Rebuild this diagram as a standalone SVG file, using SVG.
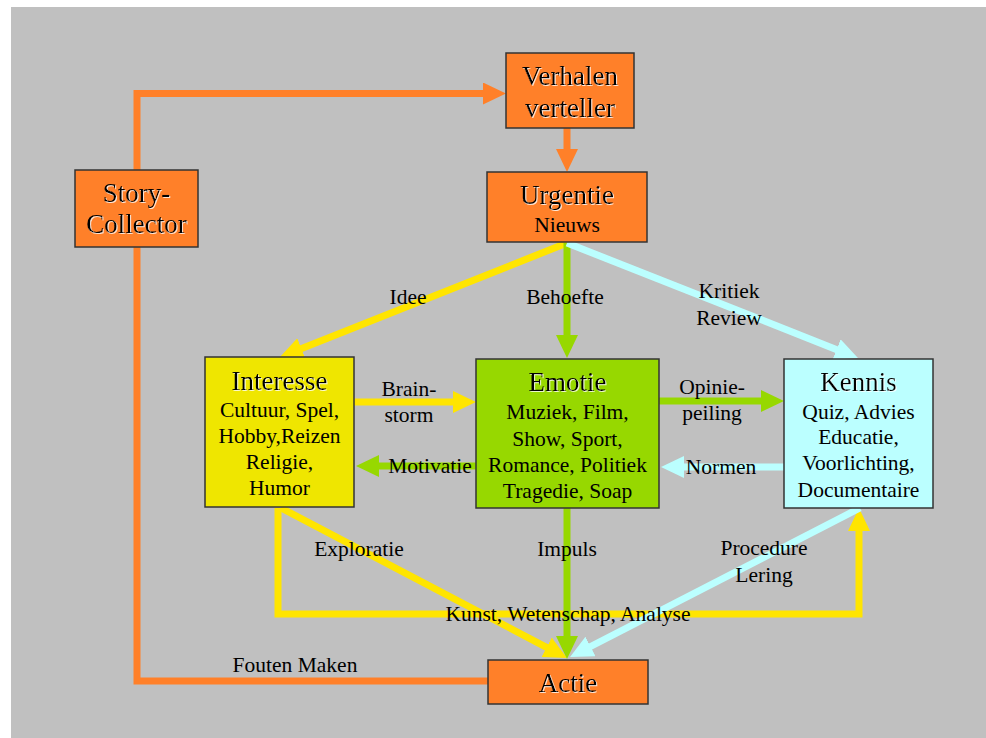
<svg xmlns="http://www.w3.org/2000/svg" width="986" height="738" viewBox="0 0 986 738">
<defs>
<style>
.box{stroke:#333;stroke-width:1.5}
.or{fill:#FF8029}
.ye{fill:#EFE600}
.gr{fill:#97D800}
.cy{fill:#BBFFFF}
.ln{fill:none;stroke-width:7;stroke-linejoin:miter}
.lo{stroke:#FF8029}
.ly{stroke:#FFE500}
.lg{stroke:#97D800}
.lc{stroke:#BBFFFF}
text{font-family:"Liberation Serif","Times New Roman",serif;fill:#000;text-anchor:middle}
.t{font-size:27px;filter:url(#emb)}
.s{font-size:21.5px}
.l{font-size:21.5px}
</style>
<filter id="emb" x="-10%" y="-20%" width="120%" height="140%">
<feDropShadow dx="1" dy="1" stdDeviation="0" flood-color="#fff" flood-opacity="0.8"/>
</filter>
<marker id="ao" viewBox="0 0 23 22" markerWidth="23" markerHeight="22" refX="1" refY="11" orient="auto" markerUnits="userSpaceOnUse"><path d="M0,0 L23,11 L0,22 z" fill="#FF8029"/></marker>
<marker id="ay" viewBox="0 0 23 22" markerWidth="23" markerHeight="22" refX="1" refY="11" orient="auto" markerUnits="userSpaceOnUse"><path d="M0,0 L23,11 L0,22 z" fill="#FFE500"/></marker>
<marker id="ag" viewBox="0 0 23 22" markerWidth="23" markerHeight="22" refX="1" refY="11" orient="auto" markerUnits="userSpaceOnUse"><path d="M0,0 L23,11 L0,22 z" fill="#97D800"/></marker>
<marker id="ac" viewBox="0 0 23 22" markerWidth="23" markerHeight="22" refX="1" refY="11" orient="auto" markerUnits="userSpaceOnUse"><path d="M0,0 L23,11 L0,22 z" fill="#BBFFFF"/></marker>
</defs>
<rect x="11" y="7" width="975" height="731" fill="#C0C0C0"/>
<g id="connectors">
<path class="ln lo" d="M137,170 V93.5 H484" marker-end="url(#ao)"/>
<path class="ln lo" d="M567,128 V150" marker-end="url(#ao)"/>
<path class="ln lo" d="M488,681 H137 V247"/>
<path class="ln ly" d="M278,508 V614 H859 V530" marker-end="url(#ay)"/>
<path class="ln ly" d="M567,243 L300.4,348.9" marker-end="url(#ay)"/>
<path class="ln ly" d="M354,402 H454" marker-end="url(#ay)"/>
<path class="ln ly" d="M281,508 L547.5,647.8" marker-end="url(#ay)"/>
<path class="ln lg" d="M567,243 V336" marker-end="url(#ag)"/>
<path class="ln lg" d="M476,466 H378" marker-end="url(#ag)"/>
<path class="ln lg" d="M659,401 H762" marker-end="url(#ag)"/>
<path class="ln lg" d="M567,508 V637" marker-end="url(#ag)"/>
<path class="ln lc" d="M567,243 L837.5,349.9" marker-end="url(#ac)"/>
<path class="ln lc" d="M784,467 H683" marker-end="url(#ac)"/>
<path class="ln lc" d="M860,508 L589.6,647" marker-end="url(#ac)"/>
</g>
<g id="labels">
<text class="l" x="408" y="304">Idee</text>
<text class="l" x="565" y="304">Behoefte</text>
<text class="l" x="729" y="298">Kritiek</text>
<text class="l" x="729" y="325">Review</text>
<text class="l" x="409" y="396">Brain-</text>
<text class="l" x="409" y="422">storm</text>
<text class="l" x="430" y="473">Motivatie</text>
<text class="l" x="712" y="394">Opinie-</text>
<text class="l" x="712" y="420">peiling</text>
<text class="l" x="721" y="474">Normen</text>
<text class="l" x="359" y="556">Exploratie</text>
<text class="l" x="567" y="556">Impuls</text>
<text class="l" x="764" y="555">Procedure</text>
<text class="l" x="764" y="582">Lering</text>
<text class="l" x="568" y="621">Kunst, Wetenschap, Analyse</text>
<text class="l" x="295" y="672">Fouten Maken</text>
</g>
<g id="verhalen">
<rect class="box or" x="506" y="53" width="128" height="75"/>
<text class="t" x="570" y="85">Verhalen</text>
<text class="t" x="570" y="117">verteller</text>
</g>
<g id="story-collector">
<rect class="box or" x="75" y="170" width="123" height="77"/>
<text class="t" x="136.5" y="202">Story-</text>
<text class="t" x="136.5" y="233">Collector</text>
</g>
<g id="urgentie">
<rect class="box or" x="487" y="172" width="160" height="70"/>
<text class="t" x="567" y="204">Urgentie</text>
<text class="s" x="567" y="232">Nieuws</text>
</g>
<g id="interesse">
<rect class="box ye" x="205" y="357" width="149" height="150"/>
<text class="t" x="279.5" y="390">Interesse</text>
<text class="s" x="279.5" y="417">Cultuur, Spel,</text>
<text class="s" x="279.5" y="443">Hobby,Reizen</text>
<text class="s" x="279.5" y="469">Religie,</text>
<text class="s" x="279.5" y="495">Humor</text>
</g>
<g id="emotie">
<rect class="box gr" x="476" y="359" width="183" height="149"/>
<text class="t" x="567.5" y="391">Emotie</text>
<text class="s" x="567.5" y="419">Muziek, Film,</text>
<text class="s" x="567.5" y="446">Show, Sport,</text>
<text class="s" x="567.5" y="472">Romance, Politiek</text>
<text class="s" x="567.5" y="498">Tragedie, Soap</text>
</g>
<g id="kennis">
<rect class="box cy" x="784" y="359" width="149" height="149"/>
<text class="t" x="858.5" y="391">Kennis</text>
<text class="s" x="858.5" y="419">Quiz, Advies</text>
<text class="s" x="858.5" y="444">Educatie,</text>
<text class="s" x="858.5" y="470">Voorlichting,</text>
<text class="s" x="858.5" y="497">Documentaire</text>
</g>
<g id="actie">
<rect class="box or" x="488" y="660" width="160" height="44"/>
<text class="t" x="568" y="692">Actie</text>
</g>
</svg>
